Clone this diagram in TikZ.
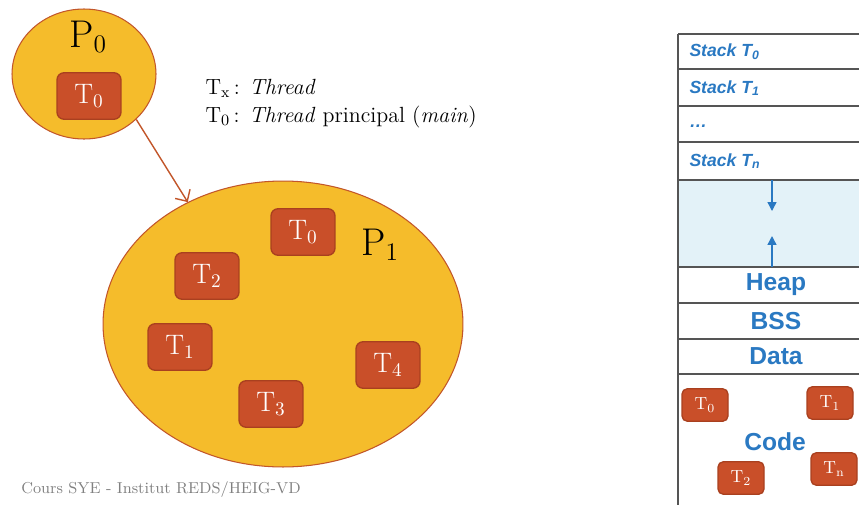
\documentclass[tikz,border=0pt]{standalone}
\usepackage{fontspec}
\newfontfamily\tabfont{Liberation Sans}
\usetikzlibrary{arrows.meta,shapes.geometric,positioning}
\definecolor{procfill}{HTML}{F5BC2B}
\definecolor{procline}{HTML}{C2562A}
\definecolor{thrfill}{HTML}{C94F29}
\definecolor{thrline}{HTML}{A9401F}
\definecolor{memblue}{HTML}{2A79C2}
\definecolor{freefill}{HTML}{E3F2F8}
\definecolor{rowline}{HTML}{555555}
\tikzset{every picture/.style={line width=0.75pt}}
\tikzset{
  proc/.style={ellipse, draw=procline, fill=procfill, line width=0.6pt, inner sep=0pt},
  thr/.style={rectangle, rounded corners=4pt, draw=thrline, fill=thrfill, text=white,
    minimum width=1.28cm, minimum height=0.93cm, font=\fontsize{16}{16}\selectfont},
  thrsmall/.style={thr, rounded corners=3pt, minimum width=0.92cm, minimum height=0.65cm,
    font=\fontsize{10}{10}\selectfont},
  seg/.style={font=\tabfont\bfseries\fontsize{14}{14}\selectfont, text=memblue},
  stk/.style={font=\tabfont\bfseries\itshape\fontsize{10}{10}\selectfont, text=memblue, anchor=west},
  plabel/.style={font=\fontsize{22}{22}\selectfont},
  legend/.style={anchor=west, font=\fontsize{12.5}{12.5}\selectfont}
}

\begin{document}
\begin{tikzpicture}[x=0.02cm, y=-0.02cm]
    \useasboundingbox (0,0) rectangle (859,504);
    \clip (0,0) rectangle (859,504);

    % Processus P0
    \node[proc, minimum width=2.88cm, minimum height=2.6cm] (p0) at (84,74) {};
    \node[plabel] (p0lbl) at (88,37) {$\mathrm{P}_0$};
    \node[thr] (p0t0) at (89,96) {$\mathrm{T}_0$};

    % Processus P1
    \node[proc, minimum width=7.2cm, minimum height=5.72cm] (p1) at (283,324) {};
    \node[plabel] (p1lbl) at (380,245) {$\mathrm{P}_1$};
    \foreach \x/\y/\n in {303/232/0, 207/276/2, 180/347/1, 271/404/3, 388/365/4} {
        \node[thr] (p1t\n) at (\x,\y) {$\mathrm{T}_{\n}$};
    }

    % creation
    \draw[-{Straight Barb[length=5pt]}, procline, line width=0.8pt] (p0.-41) -- (p1.128);

    % legende
    \node[legend] (legx) at (199,88) {$\mathrm{T}_\mathrm{x}$\,: \textit{Thread}};
    \node[legend] (leg0) at (199,117) {$\mathrm{T}_0$\,: \textit{Thread} principal (\textit{main})};
    \node[text=gray, font=\fontsize{9}{9}\selectfont] (pied) at (161,490) {Cours SYE - Institut REDS/HEIG-VD};

    % espace d'adressage
    \fill[freefill] (678,180) rectangle (875,267);
    \foreach \y in {34,69,106,142,180,267,303,339,374} {
        \draw[rowline, line width=1.2pt] (678,\y) -- (875,\y);
    }
    \draw[rowline, line width=1.2pt] (678,34) -- (678,510);

    \foreach \y/\n/\t in {52/s0/{Stack T\textsubscript{0}}, 88/s1/{Stack T\textsubscript{1}}, 126/sdots/{\dots}, 161/sn/{Stack T\textsubscript{n}}} {
        \node[stk] (\n) at (683,\y) {\t};
    }

    % pile et tas
    \coordinate (pilebas) at (772,180);
    \coordinate (pilefin) at (772,211);
    \coordinate (tashaut) at (772,267);
    \coordinate (tasfin) at (772,236);
    \draw[memblue, line width=0.8pt, -{Triangle[length=5pt, width=5pt]}] (pilebas) -- (pilefin);
    \draw[memblue, line width=0.8pt, -{Triangle[length=5pt, width=5pt]}] (tashaut) -- (tasfin);

    \node[seg] (heap) at (776,285) {Heap};
    \node[seg] (bss) at (776,321) {BSS};
    \node[seg] (data) at (776,356) {Data};
    \node[seg] (code) at (775,442) {Code};

    \foreach \x/\y/\n in {705/405/0, 830/403/1, 741/478/2, 834/469/n} {
        \node[thrsmall] (c\n) at (\x,\y) {$\mathrm{T}_{\mathrm{\n}}$};
    }
\end{tikzpicture}
\end{document}
